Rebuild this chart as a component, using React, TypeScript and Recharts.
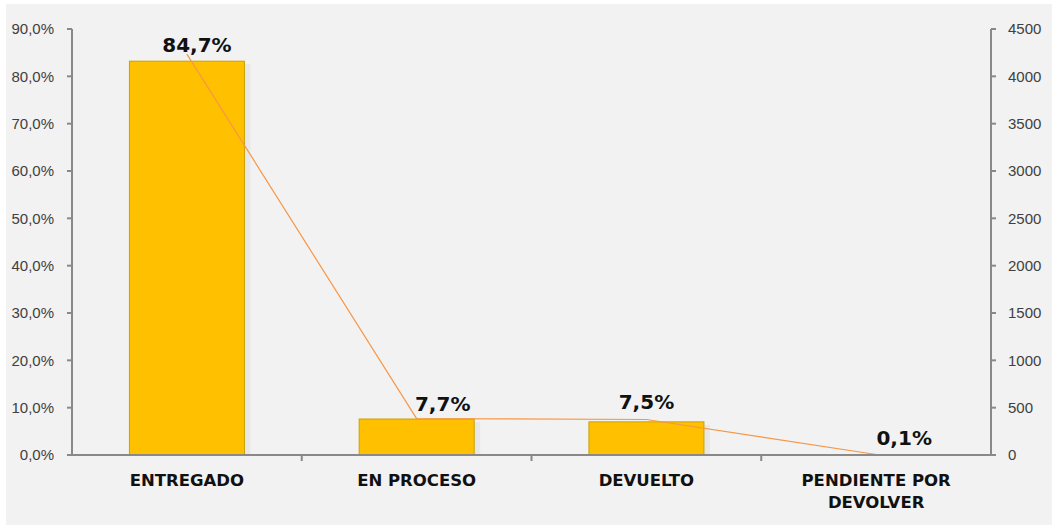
import { Bar, ComposedChart, LabelList, Line, XAxis, YAxis } from 'recharts';

const categories = ['ENTREGADO', 'EN PROCESO', 'DEVUELTO', 'PENDIENTE POR DEVOLVER'];
const percentValues = [83.2, 7.6, 7.0, 0.1];
const percentLabels = ['84,7%', '7,7%', '7,5%', '0,1%'];
const countValues = [4235, 385, 375, 5];
const percentTicks = [0, 10, 20, 30, 40, 50, 60, 70, 80, 90];
const countTicks = [0, 500, 1000, 1500, 2000, 2500, 3000, 3500, 4000, 4500];

const data = categories.map((name, i) => ({
  name,
  pct: percentValues[i],
  count: countValues[i],
}));

// label nudges, to sit where the original puts them
const labelDx = [10, 26, 0, 28];
const labelDy = [-9, -8, -13, -10];

const AXIS = '#898989';

function CategoryTick(props: any) {
  const { x, y, payload, index } = props;
  const band = (991 - 72) / categories.length;
  const words: string[] = payload.value === 'PENDIENTE POR DEVOLVER' ? ['PENDIENTE POR', 'DEVOLVER'] : [payload.value];
  return (
    <g>
      {index < categories.length - 1 && (
        <line x1={x + band / 2} x2={x + band / 2} y1={y - 8} y2={y - 2} stroke={AXIS} strokeWidth={2} />
      )}
      <text
        textAnchor="middle"
        fontFamily="DejaVu Sans"
        fontWeight="bold"
        fontSize={16.5}
        fill="#111"
      >
        {words.map((w, i) => (
          <tspan key={w} x={x} y={y + 23 + i * 22}>
            {w}
          </tspan>
        ))}
      </text>
    </g>
  );
}

function BarShape(props: any) {
  const { x, y, width, height } = props;
  if (height <= 0) return null;
  return (
    <g>
      <rect x={x + 2} y={y + 3} width={width + 4} height={height - 3} fill="url(#barShadow)" />
      <rect x={x} y={y} width={width} height={height} fill="#FFC000" stroke="#C9A100" strokeWidth={1} />
    </g>
  );
}

function PctLabel(props: any) {
  const { x, y, width, index } = props;
  return (
    <text
      x={x + width / 2 + labelDx[index]}
      y={y + labelDy[index]}
      textAnchor="middle"
      fontFamily="DejaVu Sans"
      fontWeight="bold"
      fontSize={20}
      fill="#111"
    >
      {percentLabels[index]}
    </text>
  );
}

export default function App() {
  return (
    <div style={{ position: 'fixed', left: 0, top: 0, width: 1052, height: 525, background: '#fff' }}>
      <div style={{ position: 'absolute', left: 6, top: 4, right: 0, bottom: 0, background: '#F2F2F2' }} />
      <div style={{ position: 'absolute', left: 0, top: 0 }}>
        <ComposedChart
          width={1052}
          height={525}
          data={data}
          margin={{ top: 29, right: 0, bottom: 0, left: 0 }}
          barCategoryGap="25%"
        >
          <defs>
            <linearGradient id="barShadow" x1="0" x2="1" y1="0" y2="0">
              <stop offset="0%" stopColor="#808080" stopOpacity={0.9} />
              <stop offset="100%" stopColor="#c4c4c4" stopOpacity={0.2} />
            </linearGradient>
          </defs>
          <XAxis
            dataKey="name"
            interval={0}
            tick={<CategoryTick />}
            tickLine={false}
            axisLine={{ stroke: AXIS, strokeWidth: 2 }}
            height={70}
          />
          <YAxis
            yAxisId="pct"
            orientation="left"
            width={72}
            domain={[0, 90]}
            ticks={percentTicks}
            tickFormatter={(v: number) => `${v.toFixed(1).replace('.', ',')}%`}
            axisLine={{ stroke: AXIS, strokeWidth: 2 }}
            tickLine={{ stroke: AXIS, strokeWidth: 2 }}
            tickSize={5}
            tickMargin={13}
            tick={{ fontFamily: 'Liberation Sans', fontSize: 15, fill: '#404040' }}
            allowDataOverflow
          />
          <YAxis
            yAxisId="count"
            orientation="right"
            width={61}
            domain={[0, 4500]}
            ticks={countTicks}
            axisLine={{ stroke: AXIS, strokeWidth: 2 }}
            tickLine={{ stroke: AXIS, strokeWidth: 2 }}
            tickSize={5}
            tickMargin={12}
            tick={{ fontFamily: 'Liberation Sans', fontSize: 15, fill: '#404040', textAnchor: 'start' }}
          />
          <Bar yAxisId="pct" dataKey="pct" shape={<BarShape />} isAnimationActive={false}>
            <LabelList dataKey="pct" content={<PctLabel />} />
          </Bar>
          <Line
            yAxisId="count"
            dataKey="count"
            type="linear"
            stroke="#F79646"
            strokeWidth={1.2}
            dot={false}
            activeDot={false}
            isAnimationActive={false}
          />
        </ComposedChart>
      </div>
    </div>
  );
}
